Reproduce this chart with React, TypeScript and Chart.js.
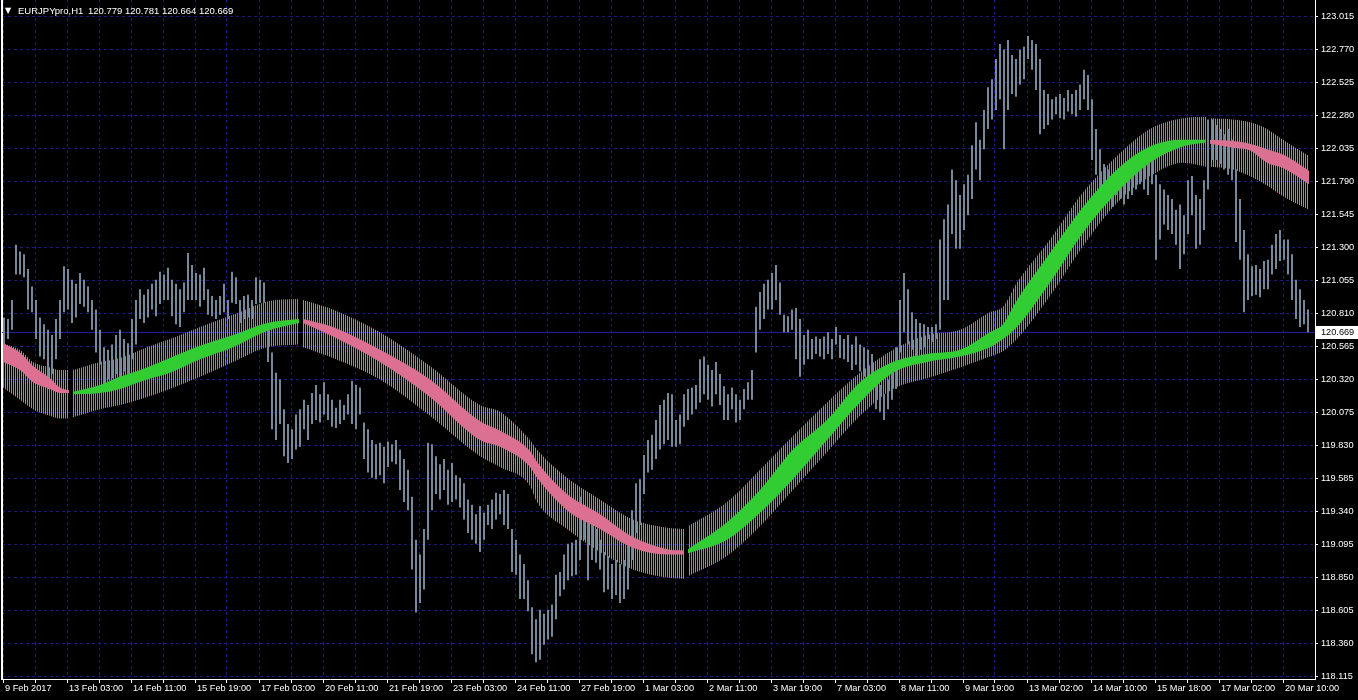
import React, { useEffect, useRef } from 'react';
import { Chart, registerables } from 'chart.js';

Chart.register(...registerables);

// ---------- header ----------
const SYMBOL = 'EURJPYpro,H1';
const OHLC = [120.779, 120.781, 120.664, 120.669];
const LAST_PRICE = 120.669;

// ---------- axes ----------
const PRICE_TICKS = [
  123.015, 122.77, 122.525, 122.28, 122.035, 121.79, 121.545, 121.3, 121.055, 120.81,
  120.565, 120.32, 120.075, 119.83, 119.585, 119.34, 119.095, 118.85, 118.605, 118.36, 118.115,
];
const TIME_LABELS = [
  '9 Feb 2017', '13 Feb 03:00', '14 Feb 11:00', '15 Feb 19:00', '17 Feb 03:00', '20 Feb 11:00',
  '21 Feb 19:00', '23 Feb 03:00', '24 Feb 11:00', '27 Feb 19:00', '1 Mar 03:00', '2 Mar 11:00',
  '3 Mar 19:00', '7 Mar 03:00', '8 Mar 11:00', '9 Mar 19:00', '13 Mar 02:00', '14 Mar 10:00',
  '15 Mar 18:00', '17 Mar 02:00', '20 Mar 10:00',
];
const H1_BARS_PER_LABEL = 32;
const H1_BARS_PER_DRAWN_BAR = 2;

// ---------- price bars (each drawn bar = 2 H1 bars) ----------
const priceHigh = [
  120.78,120.77,120.91,121.32,121.27,121.25,121.14,121.01,120.91,120.78,120.73,120.69,120.65,120.77,120.91,121.16,
  121.14,121.06,121.03,121.11,121.06,121.01,120.91,120.84,120.69,120.56,120.54,120.58,120.65,120.69,120.62,120.59,
  120.77,120.91,120.99,120.95,120.99,121.03,121.06,121.12,121.10,121.15,121.06,121.03,120.99,121.04,121.26,121.17,
  121.11,121.10,121.15,120.99,120.94,120.91,120.94,121.03,120.91,121.12,121.08,120.91,120.94,120.95,120.91,121.08,
  121.06,121.04,120.71,120.52,120.37,120.32,120.10,119.99,119.95,120.06,120.10,120.17,120.13,120.22,120.28,120.21,
  120.30,120.21,120.17,120.11,120.17,120.13,120.21,120.31,120.28,120.26,120.00,119.95,119.87,119.84,119.85,119.82,
  119.86,119.84,119.87,119.80,119.73,119.65,119.45,119.13,119.02,119.21,119.85,119.84,119.75,119.69,119.73,119.65,
  119.70,119.61,119.59,119.55,119.43,119.39,119.32,119.38,119.33,119.39,119.43,119.48,119.47,119.50,119.47,119.21,
  119.13,119.02,118.95,118.83,118.63,118.54,118.61,118.58,118.61,118.65,118.87,118.89,119.02,119.10,119.11,119.13,
  119.45,119.39,119.35,119.30,119.21,119.13,119.04,119.01,118.95,118.98,118.95,118.98,119.13,119.35,119.55,119.58,
  119.76,119.87,119.91,120.02,120.13,120.17,120.22,120.21,120.02,120.06,120.21,120.25,120.26,120.28,120.47,120.49,
  120.43,120.39,120.45,120.36,120.27,120.21,120.26,120.21,120.17,120.25,120.30,120.39,120.86,120.97,121.03,121.06,
  121.11,121.17,121.04,120.80,120.79,120.84,120.85,120.77,120.65,120.69,120.62,120.64,120.62,120.64,120.67,120.62,
  120.71,120.65,120.62,120.65,120.58,120.64,120.58,120.56,120.54,120.51,120.34,120.28,120.21,120.32,120.39,120.56,
  120.91,121.11,120.99,120.82,120.77,120.74,120.73,120.71,120.71,120.73,121.36,121.51,121.62,121.88,121.80,121.69,
  121.77,121.84,122.06,122.23,122.10,122.32,122.49,122.55,122.70,122.81,122.77,122.84,122.73,122.70,122.77,122.79,
  122.87,122.84,122.81,122.70,122.47,122.44,122.40,122.42,122.44,122.41,122.47,122.44,122.47,122.51,122.62,122.58,
  122.40,122.18,122.03,121.92,121.88,121.84,121.80,121.88,121.84,121.80,121.88,121.92,121.99,121.95,121.92,122.03,
  121.84,121.77,121.73,121.69,121.66,121.58,121.62,121.54,121.80,121.83,121.69,121.66,121.80,122.25,122.25,122.21,
  122.18,122.14,122.18,122.10,121.88,121.66,121.43,121.25,121.16,121.17,121.14,121.20,121.21,121.32,121.40,121.43,
  121.36,121.36,121.25,121.06,120.99,120.91,120.84,
];
const priceLow = [
  120.58,120.62,120.69,121.10,121.10,121.08,120.84,120.82,120.62,120.49,120.47,120.25,120.36,120.47,120.62,120.82,
  120.84,120.74,120.78,120.88,120.86,120.82,120.69,120.52,120.43,120.28,120.32,120.33,120.36,120.32,120.38,120.34,
  120.47,120.58,120.77,120.74,120.78,120.84,120.79,120.88,120.91,120.91,120.79,120.73,120.71,120.82,120.91,120.91,
  120.91,120.86,120.91,120.80,120.79,120.77,120.80,120.82,120.77,120.89,120.88,120.74,120.77,120.78,120.77,120.88,
  120.89,120.89,120.45,119.95,119.87,119.99,119.75,119.70,119.73,119.80,119.82,119.95,119.87,119.99,120.02,120.00,
  120.06,120.02,119.97,119.96,119.99,120.02,120.06,119.99,119.95,120.06,119.73,119.63,119.59,119.58,119.61,119.55,
  119.67,119.71,119.69,119.50,119.41,119.35,118.91,118.59,118.66,118.76,119.13,119.35,119.47,119.43,119.50,119.39,
  119.41,119.43,119.37,119.28,119.18,119.13,119.10,119.04,119.13,119.24,119.21,119.28,119.32,119.24,119.21,118.89,
  118.87,118.69,118.69,118.60,118.28,118.22,118.24,118.35,118.39,118.41,118.54,118.71,118.76,118.83,118.86,118.87,
  118.98,119.13,118.83,118.98,118.96,118.91,118.74,118.76,118.69,118.72,118.66,118.69,118.76,118.98,119.18,119.24,
  119.47,119.63,119.65,119.73,119.80,119.84,119.87,119.82,119.82,119.84,119.97,120.02,120.06,120.10,120.15,120.21,
  120.17,120.12,120.21,120.13,120.02,120.02,120.10,120.00,120.02,120.10,120.17,120.17,120.52,120.69,120.77,120.84,
  120.84,120.91,120.80,120.67,120.67,120.69,120.47,120.34,120.43,120.47,120.47,120.51,120.49,120.47,120.51,120.47,
  120.58,120.48,120.47,120.45,120.39,120.43,120.38,120.34,120.34,120.32,120.10,120.08,120.02,120.10,120.17,120.25,
  120.52,120.67,120.58,120.54,120.45,120.54,120.56,120.62,120.60,120.62,120.69,120.91,120.91,121.40,121.29,121.29,
  121.43,121.54,121.66,121.88,121.80,122.03,122.18,122.25,122.32,122.40,122.03,122.32,122.44,122.42,122.51,122.55,
  122.70,122.62,122.47,122.14,122.18,122.21,122.25,122.29,122.26,122.25,122.31,122.29,122.27,122.32,122.40,122.32,
  121.95,121.84,121.73,121.66,121.66,121.60,121.69,121.66,121.62,121.66,121.69,121.73,121.77,121.73,121.69,121.77,
  121.21,121.36,121.47,121.43,121.40,121.32,121.14,121.25,121.40,121.54,121.29,121.32,121.43,121.73,121.95,121.95,
  121.92,121.88,121.84,121.80,121.34,121.21,120.82,120.91,120.94,120.95,120.93,120.99,120.99,121.10,121.14,121.20,
  121.21,121.10,120.91,120.77,120.71,120.73,120.67,
];

// ---------- trend band (control points on the H1 bar index) ----------
const bandBar = [
  0, 8.5, 15, 23.5, 28.5, 33,
  35, 48.5, 58.5, 72, 83.5, 98.5, 115, 132, 148,
  150, 165, 188.5, 213.5, 238.5, 248.5, 263.5, 267, 282, 298.5, 315, 332, 340.5,
  342.5, 362, 378.5, 395, 412, 428.5, 445, 462, 478.5, 493.5, 500, 507, 523.5, 540, 557, 573.5, 590, 601.5,
  603.5, 615, 623.5, 632, 640, 653,
];
const bandRun = [
  0, 0, 0, 0, 0, 0,
  1, 1, 1, 1, 1, 1, 1, 1, 1,
  2, 2, 2, 2, 2, 2, 2, 2, 2, 2, 2, 2, 2,
  3, 3, 3, 3, 3, 3, 3, 3, 3, 3, 3, 3, 3, 3, 3, 3, 3, 3,
  4, 4, 4, 4, 4, 4,
];
const runTrend = ['down', 'up', 'down', 'up', 'down'];
const bandOuterHigh = [
  120.59, 120.54, 120.45, 120.41, 120.39, 120.39,
  120.39, 120.45, 120.48, 120.56, 120.62, 120.71, 120.80, 120.90, 120.92,
  120.91, 120.84, 120.67, 120.42, 120.13, 120.08, 119.87, 119.80, 119.59, 119.43, 119.28, 119.22, 119.21,
  119.23, 119.41, 119.65, 119.90, 120.15, 120.37, 120.54, 120.65, 120.69, 120.82, 120.86, 121.04, 121.36, 121.71, 121.98, 122.18, 122.26, 122.27,
  122.26, 122.25, 122.23, 122.18, 122.10, 121.98,
];
const bandCoreHigh = [
  120.59, 120.52, 120.42, 120.33, 120.26, 120.24,
  120.23, 120.28, 120.34, 120.41, 120.48, 120.57, 120.65, 120.74, 120.77,
  120.77, 120.71, 120.54, 120.32, 120.01, 119.94, 119.79, 119.71, 119.47, 119.32, 119.15, 119.06, 119.05,
  119.06, 119.26, 119.50, 119.80, 120.02, 120.30, 120.45, 120.51, 120.54, 120.67, 120.73, 120.91, 121.26, 121.60, 121.88, 122.05, 122.10, 122.10,
  122.10, 122.09, 122.07, 122.03, 121.99, 121.87,
];
const bandCoreLow = [
  120.45, 120.39, 120.30, 120.25, 120.22, 120.22,
  120.21, 120.22, 120.25, 120.32, 120.37, 120.47, 120.56, 120.68, 120.74,
  120.74, 120.64, 120.45, 120.19, 119.87, 119.82, 119.67, 119.59, 119.35, 119.21, 119.07, 119.02, 119.02,
  119.03, 119.13, 119.33, 119.58, 119.87, 120.15, 120.37, 120.45, 120.49, 120.56, 120.62, 120.71, 121.04, 121.41, 121.71, 121.93, 122.05, 122.08,
  122.07, 122.04, 122.02, 121.93, 121.89, 121.77,
];
const bandOuterLow = [
  120.26, 120.17, 120.10, 120.05, 120.03, 120.03,
  120.04, 120.10, 120.13, 120.19, 120.25, 120.34, 120.45, 120.56, 120.58,
  120.56, 120.48, 120.32, 120.05, 119.75, 119.67, 119.53, 119.41, 119.21, 119.04, 118.91, 118.85, 118.84,
  118.86, 119.01, 119.23, 119.50, 119.78, 120.05, 120.25, 120.33, 120.41, 120.49, 120.53, 120.62, 120.94, 121.31, 121.63, 121.83, 121.93, 121.90,
  121.90, 121.88, 121.83, 121.76, 121.68, 121.58,
];

// ---------- styling ----------
const FONT = "'Liberation Sans', Arial, sans-serif";
const GRID = '#1b1b7c';
const BID = '#2121a3';
const BAR_GRAY = '#778899';
const PINK = '#db7093';
const GREEN = '#32cd32';
const Y_MAX = 123.1376;
const Y_MIN = 118.0964;
const X_MIN = -0.5;
const X_MAX = 656;

const noPad = (s: any) => {
  s.paddingTop = 0;
  s.paddingBottom = 0;
  s.paddingLeft = 0;
  s.paddingRight = 0;
};

export default function App() {
  const ref = useRef<HTMLCanvasElement>(null);

  useEffect(() => {
    const canvas = ref.current as HTMLCanvasElement;
    const ctx = canvas.getContext('2d') as CanvasRenderingContext2D;
    const stripe = (color: string) => {
      const c = document.createElement('canvas');
      c.width = 2;
      c.height = 1;
      const g = c.getContext('2d') as CanvasRenderingContext2D;
      g.fillStyle = color;
      g.fillRect(1, 0, 1, 1);
      return ctx.createPattern(c, 'repeat');
    };
    const stripes: any = { up: stripe(GREEN), down: stripe(PINK) };
    const solids: any = { up: GREEN, down: PINK };

    const runs = runTrend.map((trend, r) => ({
      trend,
      idx: bandBar.map((_, j) => j).filter((j) => bandRun[j] === r),
    }));
    const pts = (idx: number[], arr: number[]) => idx.map((j) => ({ x: bandBar[j], y: arr[j] }));
    const lineBase = {
      type: 'line',
      borderWidth: 0,
      pointRadius: 0,
      pointHoverRadius: 0,
      cubicInterpolationMode: 'monotone',
      xAxisID: 'x',
      yAxisID: 'y',
    };

    const datasets: any[] = [];
    datasets.push({
      type: 'line',
      data: [{ x: X_MIN, y: LAST_PRICE }, { x: X_MAX, y: LAST_PRICE }],
      borderColor: BID,
      borderWidth: 1,
      pointRadius: 0,
      fill: false,
      order: 20,
      xAxisID: 'x',
      yAxisID: 'y',
    });
    runs.forEach((run) => {
      datasets.push({ ...lineBase, data: pts(run.idx, bandOuterHigh), fill: '+1', backgroundColor: stripes[run.trend], order: 10 });
      datasets.push({ ...lineBase, data: pts(run.idx, bandOuterLow), fill: false, order: 10 });
    });
    datasets.push({
      type: 'bar',
      data: priceHigh.map((h, i) => ({ x: H1_BARS_PER_DRAWN_BAR * i + 0.5, y: [priceLow[i], h] })),
      backgroundColor: BAR_GRAY,
      borderWidth: 0,
      barThickness: 2,
      grouped: false,
      inflateAmount: 0,
      order: 5,
      xAxisID: 'x',
      yAxisID: 'y',
    });
    runs.forEach((run) => {
      datasets.push({ ...lineBase, data: pts(run.idx, bandCoreHigh), fill: '+1', backgroundColor: solids[run.trend], order: 1 });
      datasets.push({ ...lineBase, data: pts(run.idx, bandCoreLow), fill: false, order: 1 });
    });

    const gridBars: number[] = [];
    for (let k = 0; k < TIME_LABELS.length * 2 - 1; k++) gridBars.push((k * H1_BARS_PER_LABEL) / 2);
    const yTicks = [...PRICE_TICKS, LAST_PRICE];
    const isLast = (c: any) => c && c.tick && Math.abs(c.tick.value - LAST_PRICE) < 1e-6;

    const chart = new Chart(canvas, {
      type: 'line',
      data: { datasets },
      options: {
        responsive: false,
        maintainAspectRatio: false,
        animation: false,
        devicePixelRatio: 1,
        events: [],
        layout: { padding: 0 },
        plugins: {
          legend: { display: false },
          tooltip: { enabled: false },
          title: { display: false },
        },
        scales: {
          x: {
            type: 'linear',
            position: 'bottom',
            min: X_MIN,
            max: X_MAX,
            offset: false,
            afterBuildTicks: (s: any) => {
              s.ticks = gridBars.map((v) => ({ value: v }));
            },
            afterFit: (s: any) => {
              s.height = 21;
              noPad(s);
            },
            ticks: {
              color: '#ffffff',
              autoSkip: false,
              maxRotation: 0,
              minRotation: 0,
              align: 'start',
              labelOffset: 2,
              padding: 0,
              font: { family: FONT, size: 9.2 },
              callback: (v: any) => {
                const k = Math.round(Number(v) / (H1_BARS_PER_LABEL / 2));
                return k % 2 === 0 ? TIME_LABELS[k / 2] : '';
              },
            },
            grid: { color: GRID, lineWidth: 1, offset: false, drawTicks: true, tickLength: 4, tickColor: '#ffffff', tickWidth: 1 },
            border: { display: true, color: '#ffffff', width: 1, dash: [3, 3] },
          },
          y: {
            type: 'linear',
            position: 'right',
            min: Y_MIN,
            max: Y_MAX,
            afterBuildTicks: (s: any) => {
              s.ticks = yTicks.map((v) => ({ value: v }));
            },
            afterFit: (s: any) => {
              s.width = 43;
              noPad(s);
            },
            ticks: {
              autoSkip: false,
              padding: 3,
              color: (c: any) => (isLast(c) ? '#000000' : '#ffffff'),
              font: { family: FONT, size: 9.2 },
              callback: (v: any) => Number(v).toFixed(3),
              showLabelBackdrop: (c: any) => isLast(c),
              backdropColor: '#ffffff',
              backdropPadding: { left: 5, right: 5, top: 1, bottom: 1 },
            },
            grid: {
              color: (c: any) => (isLast(c) ? 'rgba(0,0,0,0)' : GRID),
              lineWidth: 1,
              drawTicks: true,
              tickLength: 3,
              tickColor: '#ffffff',
            },
            border: { display: true, color: '#ffffff', width: 1, dash: [3, 3] },
          },
          yl: {
            type: 'linear',
            position: 'left',
            min: Y_MIN,
            max: Y_MAX,
            afterFit: (s: any) => {
              s.width = 2;
              noPad(s);
            },
            ticks: { display: false },
            grid: { display: false, drawTicks: false },
            border: { display: true, color: '#ffffff', width: 2 },
          },
        },
      },
    } as any);
    return () => chart.destroy();
  }, []);

  const headerFont = "9.5px 'Liberation Sans', Arial, sans-serif";
  return (
    <div style={{ position: 'fixed', left: 0, top: 0, width: 1358, height: 700, background: '#000000', overflow: 'hidden' }}>
      <canvas ref={ref} width={1358} height={700} style={{ display: 'block', width: 1358, height: 700 }} />
      <span style={{ position: 'absolute', left: 5, top: 5, color: '#fff', font: "8px 'DejaVu Sans', sans-serif", lineHeight: '12px' }}>▼</span>
      <span style={{ position: 'absolute', left: 18, top: 5, color: '#fff', font: headerFont, lineHeight: '12px', whiteSpace: 'pre' }}>{SYMBOL}</span>
      <span style={{ position: 'absolute', left: 88, top: 5, color: '#fff', font: headerFont, lineHeight: '12px', whiteSpace: 'pre' }}>
        {OHLC.map((v) => v.toFixed(3)).join(' ')}
      </span>
    </div>
  );
}
